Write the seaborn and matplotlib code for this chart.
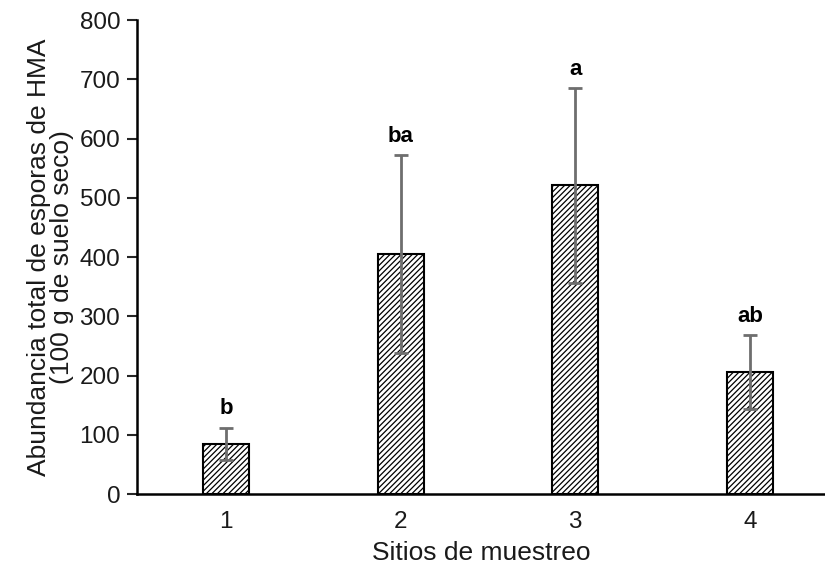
import matplotlib
matplotlib.use("Agg")
import matplotlib.pyplot as plt
import seaborn as sns
import pandas as pd

sites = ["1", "2", "3", "4"]
means = [85, 405, 521, 206]
errors = [27, 167, 164, 62]
letters = ["b", "ba", "a", "ab"]
yticks = [0, 100, 200, 300, 400, 500, 600, 700, 800]

sns.set_theme(style="white")
plt.rcParams['font.family'] = ['Liberation Sans', 'DejaVu Sans']
plt.rcParams['hatch.linewidth'] = 0.9

df = pd.DataFrame({"site": sites, "mean": means})

fig = plt.figure(figsize=(8.25, 5.72), dpi=100)
ax = fig.add_axes([0.166, 0.136, 0.834, 0.829])

sns.barplot(data=df, x="site", y="mean", ax=ax, color="white",
            edgecolor="black", linewidth=1.5, width=0.263, errorbar=None,
            hatch="//////", zorder=2)
for p in ax.patches:
    p.set_hatch("//////")

xs = list(range(len(sites)))
ax.errorbar(xs, means, yerr=errors, fmt="none", ecolor="#6e6e6e",
            elinewidth=2, capsize=5, capthick=2, zorder=3)

for x, m, e, lab in zip(xs, means, errors, letters):
    ax.annotate(lab, (x, m + e), xytext=(0, 6), textcoords="offset points",
                ha="center", va="bottom", fontsize=16, fontweight="bold",
                color="black")

ax.set_xlim(-0.51, 3.43)
ax.set_ylim(0, 800)
ax.set_yticks(yticks)
ax.set_yticklabels([str(t) for t in yticks], fontsize=17.5, color="#1a1a1a")
ax.tick_params(axis="x", labelsize=17.5, length=0, pad=12, colors="#1a1a1a")
ax.tick_params(axis="y", length=7, width=1.5, direction="out", left=True, pad=5)
for s in ["top", "right"]:
    ax.spines[s].set_visible(False)
for s in ["left", "bottom"]:
    ax.spines[s].set_color("black")
    ax.spines[s].set_linewidth(1.8)

ax.set_xlabel("Sitios de muestreo", fontsize=19, color="#1a1a1a", labelpad=6)
ax.set_ylabel("Abundancia total de esporas de HMA\n(100 g de suelo seco)",
              fontsize=19, color="#1a1a1a", labelpad=4, linespacing=0.95)

fig.savefig("out.png", dpi=100)
